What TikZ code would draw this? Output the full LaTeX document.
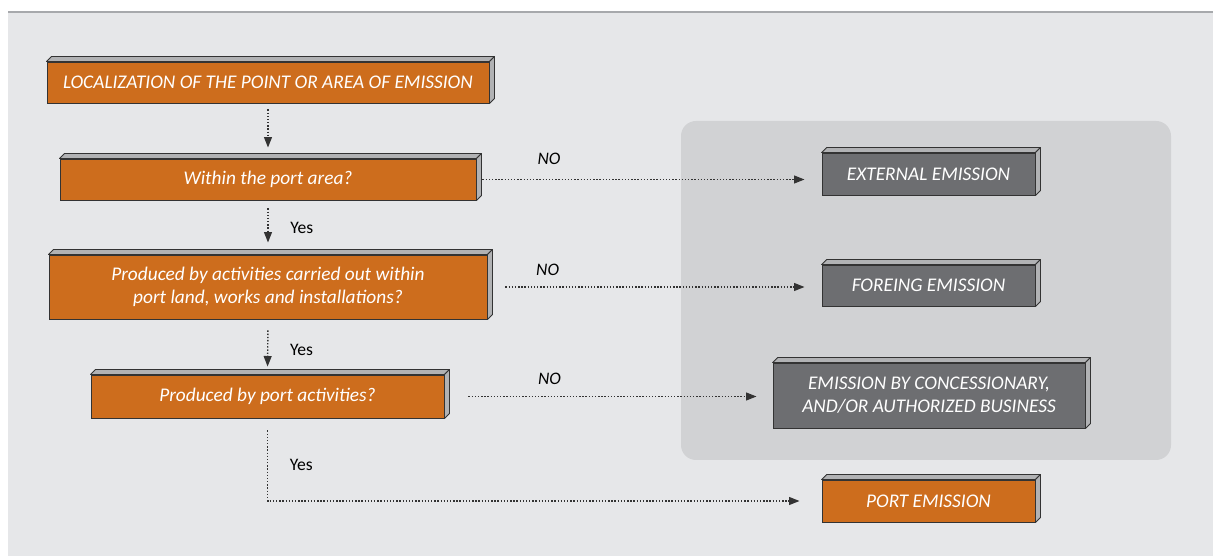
\documentclass[tikz,border=0pt]{standalone}
\usepackage{fontspec}
\setmainfont{Carlito}
\usepackage{xcolor}
\usepackage{tikz}
\usetikzlibrary{arrows.meta,positioning,calc}
\definecolor{pagebg}{HTML}{E6E7E9}
\definecolor{panelbg}{HTML}{D1D2D4}
\definecolor{rulegray}{HTML}{A7A9AC}
\definecolor{portorange}{HTML}{CD6D1D}
\definecolor{outgray}{HTML}{6D6E71}
\definecolor{facegray}{HTML}{B1B2B4}
\tikzset{
  emstep/.style={
    rectangle, draw=black!80, line width=0.5pt, text=white, align=center,
    inner sep=1pt, font=\itshape\fontsize{11}{13.2}\selectfont
  },
  emquery/.style={emstep, fill=portorange},
  emresult/.style={emstep, fill=outgray},
  emface/.style={draw=black!80, line width=0.5pt, fill=facegray, line join=round},
  emedge/.style={-{Triangle[length=6pt,width=4.5pt]}, densely dotted, line width=0.8pt, draw=black!80},
  emyes/.style={font=\fontsize{10}{12}\selectfont},
  emno/.style={font=\itshape\fontsize{10}{12}\selectfont}
}

\begin{document}
\begin{tikzpicture}
  % page background and top rule
  \useasboundingbox (0,0) rectangle (24.26,11.12);
  \fill[pagebg] (0.16,0) rectangle (24.26,10.86);
  \draw[rulegray, line width=1.2pt] (0.16,10.88) -- (24.26,10.88);
  \fill[panelbg, rounded corners=0.3cm] (13.62,1.92) rectangle (23.42,8.70);

  % decision chain
  \node[emquery, minimum width=8.84cm, minimum height=0.82cm] (loc) at (5.36,9.47)
    {LOCALIZATION OF THE POINT OR AREA OF EMISSION};
  \node[emquery, minimum width=8.32cm, minimum height=0.82cm] (within) at (5.36,7.53)
    {Within the port area?};
  \node[emquery, minimum width=8.76cm, minimum height=1.28cm] (produced) at (5.36,5.38)
    {Produced by activities carried out within\\port land, works and installations?};
  \node[emquery, minimum width=7.06cm, minimum height=0.86cm] (portact) at (5.35,3.19)
    {Produced by port activities?};

  % outcomes
  \node[emresult, minimum width=4.26cm, minimum height=0.84cm] (external) at (18.57,7.64)
    {EXTERNAL EMISSION};
  \node[emresult, minimum width=4.26cm, minimum height=0.82cm] (foreing) at (18.57,5.41)
    {FOREING EMISSION};
  \node[emresult, minimum width=6.24cm, minimum height=1.30cm] (conc) at (18.58,3.21)
    {EMISSION BY CONCESSIONARY,\\AND/OR AUTHORIZED BUSINESS};
  \node[emquery, minimum width=4.26cm, minimum height=0.84cm] (portem) at (18.57,1.10)
    {PORT EMISSION};

  % bevelled top and side of each box
  \foreach \b in {loc,within,produced,portact,external,foreing,conc,portem} {
    \draw[emface] (\b.north west) -- ++(0.1,0.1) -- ($(\b.north east)+(0.1,0.1)$) -- (\b.north east) -- cycle;
    \draw[emface] (\b.north east) -- ++(0.1,0.1) -- ($(\b.south east)+(0.1,0.1)$) -- (\b.south east) -- cycle;
  }

  % yes branch
  \draw[emedge, shorten <=0.12cm, shorten >=0.22cm] (loc.south) -- (within.north);
  \draw[emedge, shorten <=0.16cm, shorten >=0.24cm] (within.south) -- node[emyes, right=9pt] {Yes} (produced.north);
  \draw[emedge, shorten <=0.22cm, shorten >=0.16cm] (produced.south) -- node[emyes, pos=0.55, right=9pt] {Yes} (portact.north);
  \draw[emedge, shorten <=0.24cm, shorten >=0.44cm] (portact.south) |- node[emyes, pos=0.28, right=9pt] {Yes} (portem.west);

  % no branch
  \draw[emedge, shorten <=0.12cm, shorten >=0.34cm] (within.east) -- node[emno, pos=0.21, above=5pt] {NO} (within.east -| external.west);
  \draw[emedge, shorten <=0.36cm, shorten >=0.34cm] (produced.east) -- node[emno, pos=0.18, above=3pt] {NO} (produced.east -| foreing.west);
  \draw[emedge, shorten <=0.48cm, shorten >=0.32cm] (portact.east) -- node[emno, pos=0.32, above=3pt] {NO} (portact.east -| conc.west);
\end{tikzpicture}
\end{document}
